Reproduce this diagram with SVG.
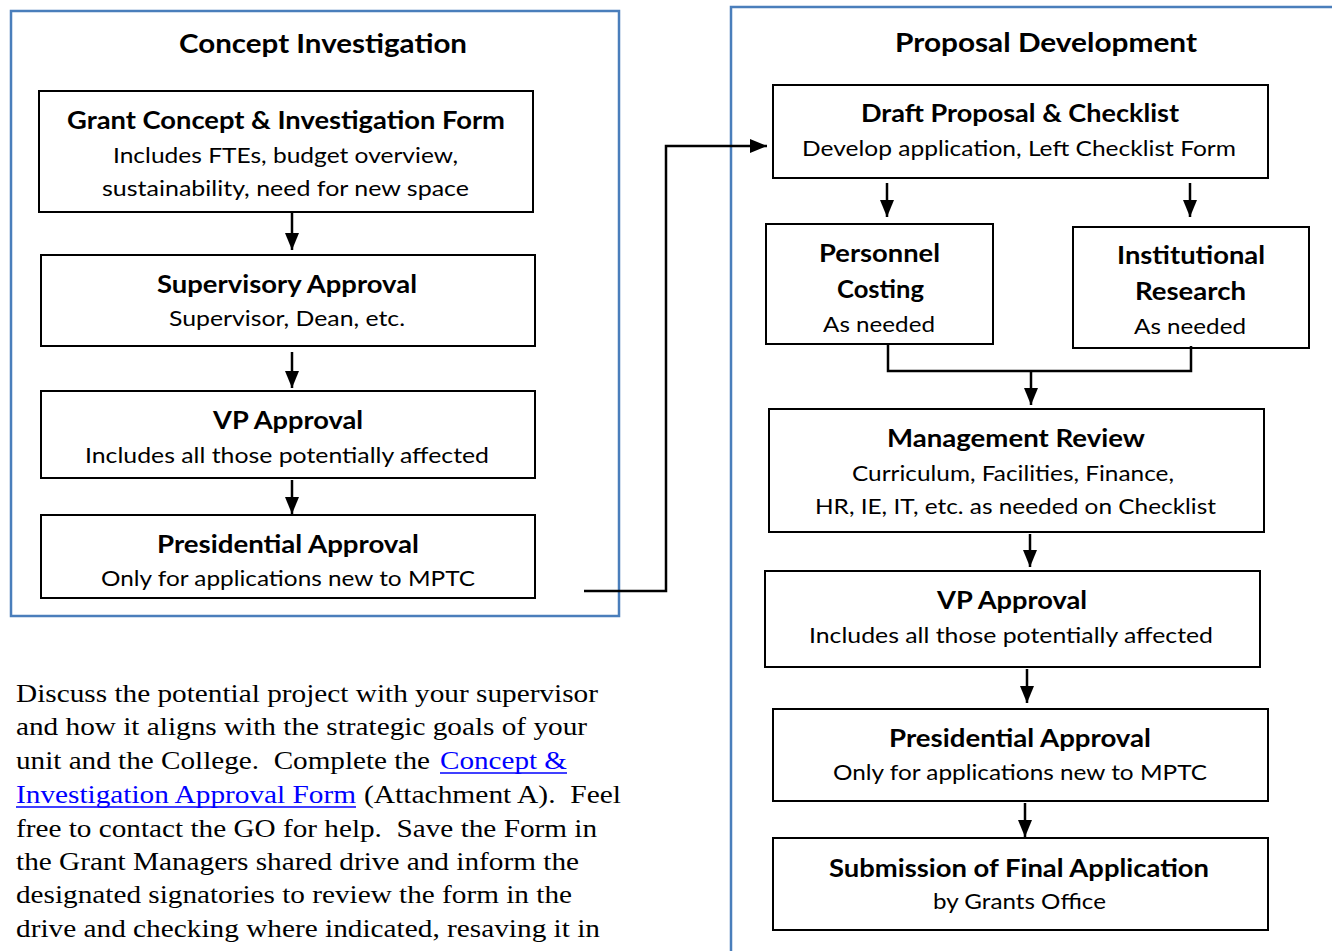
<svg xmlns="http://www.w3.org/2000/svg" width="1332" height="951" viewBox="0 0 1332 951">
<style>
.frame{fill:none;stroke:#4a7ebb;stroke-width:2.5}
.box{fill:#fff;stroke:#000;stroke-width:2}
.t{font-family:Lato,"Liberation Sans",sans-serif;font-weight:bold;font-size:24px;fill:#000;text-anchor:middle}
.s{font-family:Lato,"Liberation Sans",sans-serif;font-size:22px;fill:#000;text-anchor:middle}
.h{font-family:Lato,"Liberation Sans",sans-serif;font-weight:bold;font-size:26px;fill:#000;text-anchor:middle}
.p{font-family:"Liberation Serif","Times New Roman",serif;font-size:26px;fill:#000}
.lk{fill:#0000ff}
.ln{fill:none;stroke:#000;stroke-width:2.5}
</style>
<defs>
<marker id="ah" markerUnits="userSpaceOnUse" markerWidth="17" markerHeight="14" refX="17" refY="7" orient="auto">
<path d="M0,0 L17,7 L0,14 z" fill="#000"/>
</marker>
<clipPath id="clipPres"><rect x="0" y="0" width="640" height="591"/></clipPath>
</defs>
<rect width="1332" height="951" fill="#fff"/>

<g id="concept-investigation">
<rect class="frame" x="11" y="11" width="608" height="605"/>
<text class="h" x="323" y="53" textLength="288" lengthAdjust="spacingAndGlyphs">Concept Investigation</text>
</g>
<g id="proposal-development">
<rect class="frame" x="731" y="7" width="700" height="1000"/>
<text class="h" x="1046" y="52" textLength="302" lengthAdjust="spacingAndGlyphs">Proposal Development</text>
</g>

<g id="grant-form">
<rect class="box" x="39" y="91" width="494" height="121"/>
<text class="t" x="286" y="129" textLength="438" lengthAdjust="spacingAndGlyphs">Grant Concept &amp; Investigation Form</text>
<text class="s" x="285.5" y="163" textLength="345" lengthAdjust="spacingAndGlyphs">Includes FTEs, budget overview,</text>
<text class="s" x="285.5" y="196" textLength="367" lengthAdjust="spacingAndGlyphs">sustainability, need for new space</text>
</g>
<g id="supervisory-approval">
<rect class="box" x="41" y="255" width="494" height="91"/>
<text class="t" x="287" y="293" textLength="260" lengthAdjust="spacingAndGlyphs">Supervisory Approval</text>
<text class="s" x="287" y="326" textLength="236" lengthAdjust="spacingAndGlyphs">Supervisor, Dean, etc.</text>
</g>
<g id="vp-approval-1">
<rect class="box" x="41" y="391" width="494" height="87"/>
<text class="t" x="288" y="429" textLength="150" lengthAdjust="spacingAndGlyphs">VP Approval</text>
<text class="s" x="287" y="463" textLength="404" lengthAdjust="spacingAndGlyphs">Includes all those potentially affected</text>
</g>
<g id="presidential-approval-1">
<rect class="box" x="41" y="515" width="494" height="83"/>
<text class="t" x="288" y="553" textLength="262" lengthAdjust="spacingAndGlyphs">Presidential Approval</text>
<text class="s" x="288" y="586" textLength="374" lengthAdjust="spacingAndGlyphs" clip-path="url(#clipPres)">Only for applications new to MPTC</text>
</g>

<g id="draft-proposal">
<rect class="box" x="773" y="85" width="495" height="93"/>
<text class="t" x="1020" y="122" textLength="318" lengthAdjust="spacingAndGlyphs">Draft Proposal &amp; Checklist</text>
<text class="s" x="1019" y="156" textLength="434" lengthAdjust="spacingAndGlyphs">Develop application, Left Checklist Form</text>
</g>
<g id="personnel-costing">
<rect class="box" x="766" y="224" width="227" height="120"/>
<text class="t" x="879.5" y="262" textLength="121" lengthAdjust="spacingAndGlyphs">Personnel</text>
<text class="t" x="880.5" y="298" textLength="87" lengthAdjust="spacingAndGlyphs">Costing</text>
<text class="s" x="879" y="332" textLength="112" lengthAdjust="spacingAndGlyphs">As needed</text>
</g>
<g id="institutional-research">
<rect class="box" x="1073" y="227" width="236" height="121"/>
<text class="t" x="1191" y="264" textLength="148" lengthAdjust="spacingAndGlyphs">Institutional</text>
<text class="t" x="1190.5" y="300" textLength="111" lengthAdjust="spacingAndGlyphs">Research</text>
<text class="s" x="1190" y="334" textLength="112" lengthAdjust="spacingAndGlyphs">As needed</text>
</g>
<g id="management-review">
<rect class="box" x="769" y="409" width="495" height="123"/>
<text class="t" x="1016" y="447" textLength="258" lengthAdjust="spacingAndGlyphs">Management Review</text>
<text class="s" x="1013" y="481" textLength="322" lengthAdjust="spacingAndGlyphs">Curriculum, Facilities, Finance,</text>
<text class="s" x="1015.5" y="514" textLength="401" lengthAdjust="spacingAndGlyphs">HR, IE, IT, etc. as needed on Checklist</text>
</g>
<g id="vp-approval-2">
<rect class="box" x="765" y="571" width="495" height="96"/>
<text class="t" x="1012" y="609" textLength="150" lengthAdjust="spacingAndGlyphs">VP Approval</text>
<text class="s" x="1011" y="643" textLength="404" lengthAdjust="spacingAndGlyphs">Includes all those potentially affected</text>
</g>
<g id="presidential-approval-2">
<rect class="box" x="773" y="709" width="495" height="92"/>
<text class="t" x="1020" y="747" textLength="262" lengthAdjust="spacingAndGlyphs">Presidential Approval</text>
<text class="s" x="1020" y="780" textLength="374" lengthAdjust="spacingAndGlyphs">Only for applications new to MPTC</text>
</g>
<g id="submission">
<rect class="box" x="773" y="838" width="495" height="92"/>
<text class="t" x="1019" y="877" textLength="380" lengthAdjust="spacingAndGlyphs">Submission of Final Application</text>
<text class="s" x="1019.5" y="909" textLength="173" lengthAdjust="spacingAndGlyphs">by Grants Office</text>
</g>

<g id="connectors">
<line class="ln" x1="292" y1="213" x2="292" y2="250" marker-end="url(#ah)"/>
<line class="ln" x1="292" y1="352" x2="292" y2="388" marker-end="url(#ah)"/>
<line class="ln" x1="292" y1="480" x2="292" y2="514" marker-end="url(#ah)"/>
<polyline class="ln" points="584,591 666,591 666,146 767,146" marker-end="url(#ah)"/>
<line class="ln" x1="887" y1="183" x2="887" y2="217" marker-end="url(#ah)"/>
<line class="ln" x1="1190" y1="183" x2="1190" y2="217" marker-end="url(#ah)"/>
<polyline class="ln" points="888,345 888,371 1191,371 1191,346"/>
<line class="ln" x1="1031" y1="371" x2="1031" y2="405" marker-end="url(#ah)"/>
<line class="ln" x1="1030" y1="534" x2="1030" y2="567" marker-end="url(#ah)"/>
<line class="ln" x1="1027" y1="669" x2="1027" y2="703" marker-end="url(#ah)"/>
<line class="ln" x1="1025" y1="803" x2="1025" y2="837" marker-end="url(#ah)"/>
</g>

<g id="paragraph">
<text class="p" x="16" y="702" textLength="582" lengthAdjust="spacingAndGlyphs">Discuss the potential project with your supervisor</text>
<text class="p" x="16" y="735" textLength="571" lengthAdjust="spacingAndGlyphs">and how it aligns with the strategic goals of your</text>
<text class="p" x="16" y="769" textLength="414" lengthAdjust="spacingAndGlyphs" xml:space="preserve">unit and the College.  Complete the</text>
<text class="p lk" x="440" y="769" textLength="127" lengthAdjust="spacingAndGlyphs">Concept &amp;</text>
<line x1="440" y1="773" x2="567" y2="773" stroke="#0000ff" stroke-width="1.5"/>
<text class="p lk" x="16" y="803" textLength="340" lengthAdjust="spacingAndGlyphs">Investigation Approval Form</text>
<line x1="16" y1="807" x2="356" y2="807" stroke="#0000ff" stroke-width="1.5"/>
<text class="p" x="364" y="803" textLength="257" lengthAdjust="spacingAndGlyphs" xml:space="preserve">(Attachment A).  Feel</text>
<text class="p" x="16" y="837" textLength="581" lengthAdjust="spacingAndGlyphs" xml:space="preserve">free to contact the GO for help.  Save the Form in</text>
<text class="p" x="16" y="870" textLength="563" lengthAdjust="spacingAndGlyphs">the Grant Managers shared drive and inform the</text>
<text class="p" x="16" y="903" textLength="556" lengthAdjust="spacingAndGlyphs">designated signatories to review the form in the</text>
<text class="p" x="16" y="937" textLength="584" lengthAdjust="spacingAndGlyphs">drive and checking where indicated, resaving it in</text>
</g>
</svg>
